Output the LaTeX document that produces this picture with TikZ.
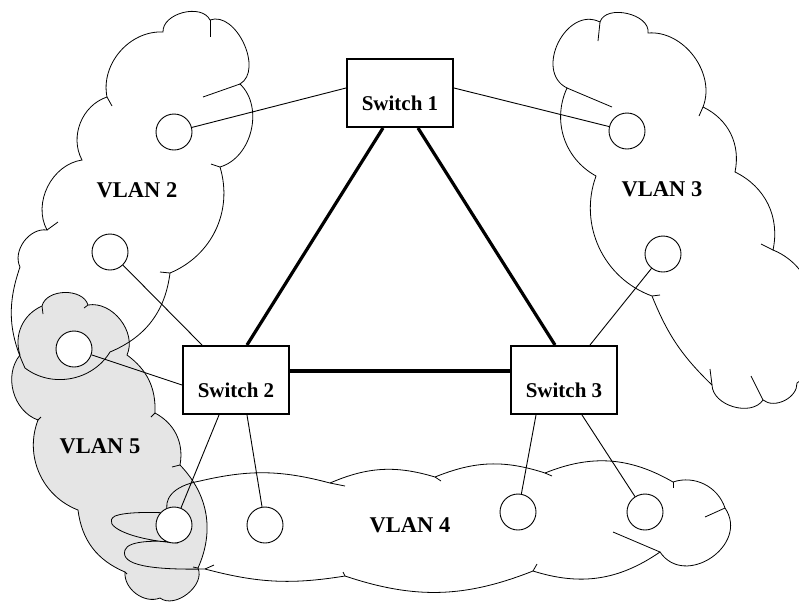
\documentclass[tikz,border=0pt]{standalone}
\usepackage{fontspec}
\setmainfont{Liberation Serif}
\usetikzlibrary{calc}

\begin{document}
\begin{tikzpicture}
		[x=1pt,y=-1pt,
		every node/.style={font=\fontsize{21}{24}\selectfont\bfseries},
		switchbox/.style={draw,line width=2pt,fill=white,minimum width=106pt,
			minimum height=68pt,inner sep=0pt,text height=34pt,text depth=0pt},
		host/.style={circle,draw,line width=0.9pt,fill=white,minimum size=36pt,inner sep=0pt},
		vlan/.style={draw,line width=0.8pt},
		vlanlabel/.style={font=\fontsize{22.5}{26}\selectfont\bfseries},
		puff/.style={bend left=#1},
		trunk/.style={line width=3.2pt},
		link/.style={line width=0.9pt}]
		\useasboundingbox (0,0) rectangle (799,606);
		% vlan 5 (shaded)
		\draw[vlan,fill=gray!20] (42,306) to[puff=75] (88,305) to[puff=62] (127,355)
			to[puff=28] (155,413) to[puff=36] (180,465) to[puff=34] (198,568)
			to[puff=75] (160,598) to[puff=58] (125,572) to[puff=30] (78,510)
			to[puff=45] (38,420) to[puff=55] (20,355) to[puff=42] cycle;
		% vlan 2
		\draw[vlan] (107,97) to[puff=52] (163,32) to[puff=78] (210,20) to[puff=85] (240,84)
			to[puff=60] (220,167) to[puff=42] (170,273) to[puff=30] (110,352)
			to[puff=48] (25,368) to[puff=22] (20,267) to[puff=62] (47,230)
			to[puff=55] (82,160) to[puff=50] cycle;
		% vlan 3
		\draw[vlan] (567,88) to[puff=90,looseness=1.3] (600,22) to[puff=85] (648,33)
			to[puff=58] (703,107) to[puff=38] (735,172) to[puff=38] (773,250)
			to[puff=43] (810,330) to[puff=43] (797,383) to[puff=65] (763,400)
			to[puff=72] (712,385) to[puff=12] (652,296) to[puff=45] (596,176)
			to[puff=43] cycle;
		% vlan 4
		\draw[vlan] (168,513) .. controls (163,500) and (172,486) .. (200,481)
			to[puff=14] (330,483) to[puff=20] (435,477) to[puff=20] (545,473)
			to[puff=26] (673,482) to[puff=45] (725,508) to[puff=90,looseness=1.45] (660,552)
			to[puff=26] (533,571) to[puff=20] (345,576) to[puff=12] (205,569)
			.. controls (150,570) and (120,565) .. (125,550)
			.. controls (128,540) and (160,540) .. (178,543)
			.. controls (130,540) and (100,525) .. (115,516)
			.. controls (125,512) and (150,512) .. cycle;
		% the little tails where the puffs meet
		\foreach \ax/\ay/\bx/\by in {210/20/210/37, 240/84/203/97, 220/167/211/164,
			107/97/112/106, 47/230/58/222, 170/273/160/272,
			600/22/598/41, 567/88/612/107, 703/107/699/116, 773/250/761/244,
			652/296/660/295, 712/385/710/369, 763/400/751/376,
			330/483/345/486, 435/477/441/481, 545/473/552/476, 673/482/673/488,
			725/508/705/517, 660/552/613/532, 533/571/537/564, 345/576/343/572,
			205/569/214/565,
			42/306/43/314, 88/305/84/308, 155/413/151/417, 180/465/172/467,
			198/568/193/567, 125/572/127/574, 38/420/41/417}
		{
			\draw[vlan] (\ax,\ay) -- (\bx,\by);
		}
		\node[vlanlabel] (l2) at (137,190) {VLAN 2};
		\node[vlanlabel] (l3) at (662,189) {VLAN 3};
		\node[vlanlabel] (l4) at (410,525) {VLAN 4};
		\node[vlanlabel] (l5) at (100,446) {VLAN 5};
		% the switches
		\node[switchbox] (s1) at (400,93) {Switch 1};
		\node[switchbox] (s2) at (236,380) {Switch 2};
		\node[switchbox] (s3) at (564,380) {Switch 3};
		% the hosts
		\node[host] (h2a) at (174,132) {};
		\node[host] (h2b) at (110,252) {};
		\node[host] (h5) at (74,349) {};
		\node[host] (h4a) at (174,525) {};
		\node[host] (h4b) at (265,525) {};
		\node[host] (h4c) at (518,512) {};
		\node[host] (h4d) at (645,512) {};
		\node[host] (h3a) at (627,131) {};
		\node[host] (h3b) at (663,254) {};
		% ports
		\coordinate (p1) at ([yshift=5pt]s1.west);
		\coordinate (p2) at ([yshift=5pt]s1.east);
		\coordinate (p3) at ([xshift=-34pt]s2.north);
		\coordinate (p4) at ([yshift=-5pt]s2.west);
		\coordinate (p5) at ([xshift=-17pt]s2.south);
		\coordinate (p6) at ([xshift=11pt]s2.south);
		\coordinate (p7) at ([xshift=-28pt]s3.south);
		\coordinate (p8) at ([xshift=18pt]s3.south);
		\coordinate (p9) at ([xshift=26pt]s3.north);
		\path
		\foreach \startNode/\endNode in {p1/h2a, p2/h3a, p3/h2b, p4/h5, p5/h4a,
			p6/h4b, p7/h4c, p8/h4d, p9/h3b}
		{
			(\startNode) edge[link] (\endNode)
		};
		\draw[trunk] ([xshift=-17pt]s1.south) -- ([xshift=11pt]s2.north);
		\draw[trunk] ([xshift=18pt]s1.south) -- ([xshift=-9pt]s3.north);
		\draw[trunk] ([yshift=9pt]s2.east) -- ([yshift=9pt]s3.west);
\end{tikzpicture}
\end{document}
